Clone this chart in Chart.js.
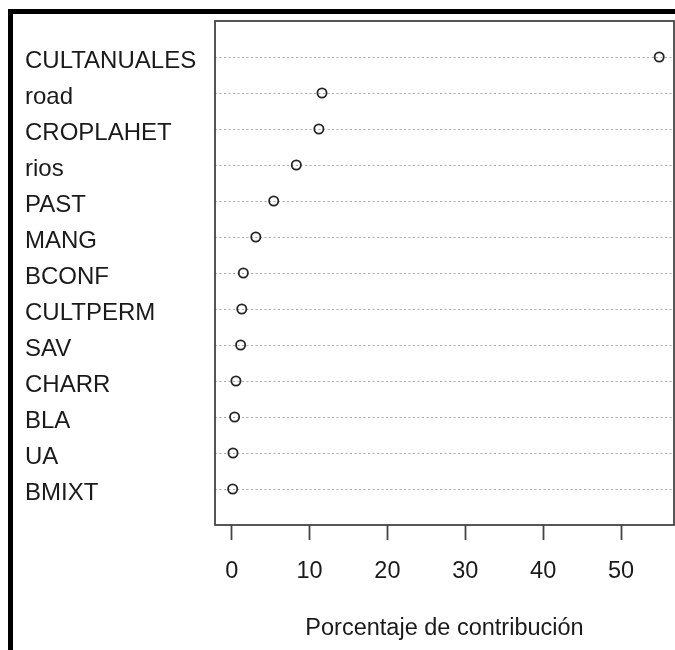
<!DOCTYPE html>
<html>
<head>
<meta charset="utf-8">
<script src="https://cdn.jsdelivr.net/npm/chart.js@4/dist/chart.umd.min.js"></script>
<style>
  html, body { margin: 0; padding: 0; background: #fff; overflow: hidden; }
  #wrap { position: relative; width: 675px; height: 650px; }
  #frame {
    position: absolute; left: 8px; top: 9px; width: 800px; height: 800px;
    border-left: 5px solid #000; border-top: 5px solid #000; box-sizing: border-box;
  }
  canvas { position: absolute; left: 0; top: 0; }
</style>
</head>
<body>
<div id="wrap">
  <div id="frame"></div>
  <canvas id="c" width="675" height="650"></canvas>
</div>
<script>
// Variable contributions (%), listed from top row to bottom row
const categories = ['CULTANUALES', 'road', 'CROPLAHET', 'rios', 'PAST', 'MANG',
                    'BCONF', 'CULTPERM', 'SAV', 'CHARR', 'BLA', 'UA', 'BMIXT'];
const contribution = [54.9, 11.6, 11.2, 8.3, 5.4, 3.1, 1.5, 1.3, 1.15, 0.55, 0.38, 0.17, 0.13];
const xTickValues = [0, 10, 20, 30, 40, 50];
const xTitle = 'Porcentaje de contribución';

const FAMILY = '"Liberation Sans", Arial, sans-serif';
const TEXT = '#1a1a1a';

// Closed box around the plotting region
const boxPlugin = {
  id: 'plotBox',
  afterDatasetsDraw(chart) {
    const { ctx, chartArea: a } = chart;
    ctx.save();
    ctx.strokeStyle = '#444';
    ctx.lineWidth = 1.8;
    ctx.strokeRect(a.left, a.top, a.right - a.left, a.bottom - a.top);
    ctx.restore();
  }
};

new Chart(document.getElementById('c'), {
  type: 'scatter',
  data: {
    datasets: [{
      data: contribution.map((v, i) => ({ x: v, y: i + 1 })),
      pointStyle: 'circle',
      pointRadius: 4.6,
      pointHoverRadius: 4.6,
      borderWidth: 1.8,
      borderColor: '#262626',
      backgroundColor: 'rgba(0,0,0,0)'
    }]
  },
  options: {
    responsive: false,
    animation: false,
    events: [],
    layout: { autoPadding: false, padding: { left: 25, top: 21, right: 1, bottom: 0 } },
    plugins: { legend: { display: false }, tooltip: { enabled: false } },
    scales: {
      x: {
        type: 'linear',
        min: -2.14,
        max: 56.8,
        afterBuildTicks: s => { s.ticks = xTickValues.map(v => ({ value: v })); },
        afterFit: s => { s.height = 125; s.paddingLeft = 0; s.paddingRight = 0; },
        grid: {
          drawOnChartArea: false,
          drawTicks: true,
          tickLength: 15,
          tickColor: '#444',
          tickWidth: 1.8
        },
        border: { display: false },
        ticks: { font: { family: FAMILY, size: 23.5 }, color: TEXT, padding: 17, maxRotation: 0 },
        title: {
          display: true,
          text: xTitle,
          font: { family: FAMILY, size: 23.5 },
          color: TEXT,
          padding: { top: 0, bottom: 7 }
        }
      },
      y: {
        type: 'linear',
        reverse: true,
        min: 0,
        max: 14,
        afterBuildTicks: s => { s.ticks = categories.map((c, i) => ({ value: i + 1 })); },
        afterFit: s => { s.width = 190; s.paddingTop = 0; s.paddingBottom = 0; },
        grid: {
          drawTicks: false,
          color: '#ababab',
          lineWidth: 1
        },
        border: { display: false, dash: [2, 2.5] },
        ticks: {
          // a blank first line with a small line height nudges each name a little below its row
          font: { family: FAMILY, size: 24, lineHeight: '8px' },
          color: TEXT,
          crossAlign: 'far',
          padding: 0,
          autoSkip: false,
          callback: v => ['', categories[v - 1] || '']
        }
      }
    }
  },
  plugins: [boxPlugin]
});
</script>
</body>
</html>
